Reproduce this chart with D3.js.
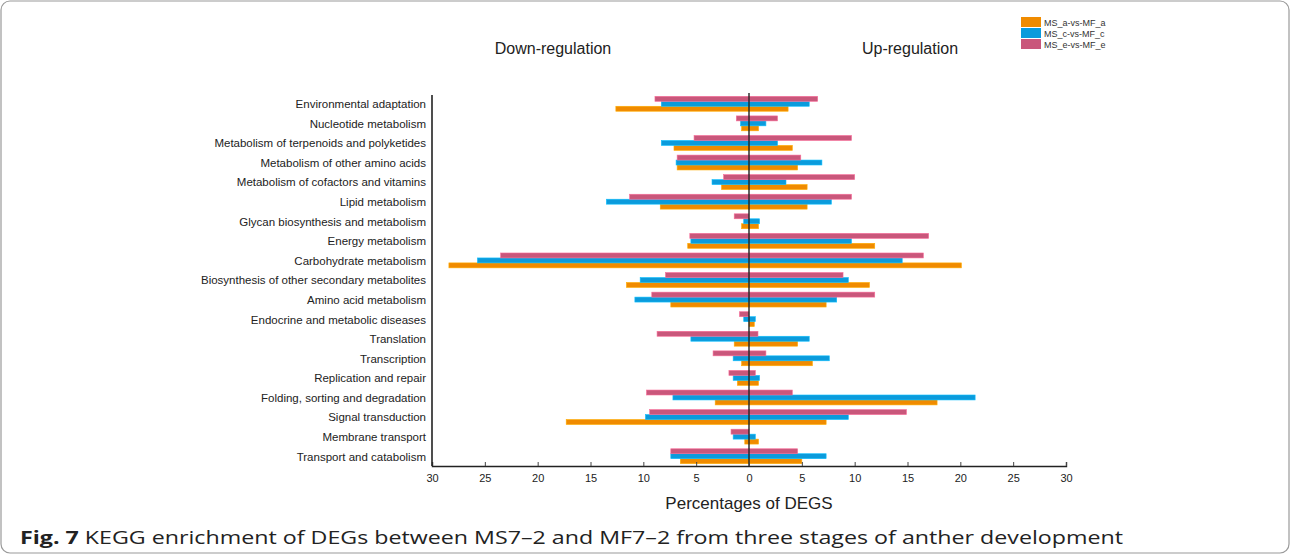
<!DOCTYPE html>
<html>
<head>
<meta charset="utf-8">
<script src="https://cdn.jsdelivr.net/npm/d3@7"></script>
<style>
  body { margin: 0; background: #fff; }
  svg { display: block; }
</style>
</head>
<body>
<script>
// KEGG categories, top to bottom
const categories = [
  "Environmental adaptation",
  "Nucleotide metabolism",
  "Metabolism of terpenoids and  polyketides",
  "Metabolism of other amino acids",
  "Metabolism of cofactors and vitamins",
  "Lipid metabolism",
  "Glycan biosynthesis and metabolism",
  "Energy metabolism",
  "Carbohydrate metabolism",
  "Biosynthesis of other secondary metabolites",
  "Amino acid metabolism",
  "Endocrine and metabolic diseases",
  "Translation",
  "Transcription",
  "Replication and repair",
  "Folding, sorting and degradation",
  "Signal transduction",
  "Membrane transport",
  "Transport and catabolism"
];

const seriesNames = ["MS_a-vs-MF_a", "MS_c-vs-MF_c", "MS_e-vs-MF_e"];
const seriesColors = ["#f08b00", "#0b9bdc", "#c9577b"];

// percentages of DEGs (down-regulated / up-regulated)
const downA = [12.6, 0.7, 7.1, 6.8, 2.6, 8.4, 0.7, 5.8, 28.4, 11.6, 7.4, 0, 1.4, 0.7, 1.1, 3.2, 17.3, 0.4, 6.5];
const upA   = [3.7, 0.9, 4.1, 4.6, 5.5, 5.5, 0.9, 11.9, 20.1, 11.4, 7.3, 0.5, 4.6, 6.0, 0.9, 17.8, 7.3, 0.9, 5.0];
const downC = [8.3, 0.8, 8.3, 6.9, 3.5, 13.5, 0.5, 5.5, 25.7, 10.3, 10.8, 0.5, 5.5, 1.5, 1.5, 7.2, 9.8, 1.5, 7.4];
const upC   = [5.7, 1.6, 2.7, 6.9, 3.5, 7.8, 1.0, 9.7, 14.5, 9.4, 8.3, 0.6, 5.7, 7.6, 1.0, 21.4, 9.4, 0.6, 7.3];
const downE = [8.9, 1.2, 5.2, 6.8, 2.4, 11.3, 1.4, 5.6, 23.5, 7.9, 9.2, 0.9, 8.7, 3.4, 1.9, 9.7, 9.4, 1.7, 7.4];
const upE   = [6.5, 2.7, 9.7, 4.9, 10.0, 9.7, 0, 17.0, 16.5, 8.9, 11.9, 0, 0.85, 1.6, 0.6, 4.1, 14.9, 0, 4.6];

const xTicks = [-30, -25, -20, -15, -10, -5, 0, 5, 10, 15, 20, 25, 30];

const width = 1290, height = 555;
const svg = d3.select("body").append("svg")
  .attr("width", width)
  .attr("height", height)
  .style("font-family", "'Liberation Sans', Arial, sans-serif");

// frame
svg.append("rect")
  .attr("x", 1).attr("y", 1)
  .attr("width", width - 2).attr("height", height - 3)
  .attr("rx", 9)
  .attr("fill", "none")
  .attr("stroke", "#9a9a9a")
  .attr("stroke-width", 1.2);

const x = d3.scaleLinear().domain([-30, 30]).range([432, 1066]);
const y = d3.scaleBand().domain(categories).range([94, 466]).paddingInner(0.24).paddingOuter(0.12);
// order inside a row: e on top, then c, then a
const sub = d3.scaleBand().domain([2, 1, 0]).range([0, y.bandwidth()]);

const downs = [downA, downC, downE];
const ups = [upA, upC, upE];

// bars
const rows = [];
categories.forEach((c, i) => {
  [0, 1, 2].forEach(s => {
    rows.push({ cat: c, s: s, v: -downs[s][i] });
    rows.push({ cat: c, s: s, v: ups[s][i] });
  });
});

svg.append("g").selectAll("rect")
  .data(rows.filter(d => d.v !== 0))
  .join("rect")
  .attr("x", d => Math.min(x(0), x(d.v)))
  .attr("y", d => y(d.cat) + sub(d.s))
  .attr("width", d => Math.abs(x(d.v) - x(0)))
  .attr("height", sub.bandwidth())
  .attr("fill", d => seriesColors[d.s])
  .attr("stroke", d => d3.color(seriesColors[d.s]).brighter(0.6))
  .attr("stroke-width", 0.6);

// zero line
svg.append("line")
  .attr("x1", x(0)).attr("x2", x(0))
  .attr("y1", 93).attr("y2", 466)
  .attr("stroke", "#222")
  .attr("stroke-width", 1.4);

// x axis
const xAxis = d3.axisBottom(x)
  .tickValues(xTicks)
  .tickSize(-4)
  .tickPadding(8)
  .tickFormat(d => Math.abs(d));

svg.append("g")
  .attr("transform", "translate(0,466)")
  .call(xAxis)
  .call(g => g.select(".domain").attr("stroke", "#222").attr("stroke-width", 1.4))
  .call(g => g.selectAll(".tick line").attr("stroke", "#444"))
  .call(g => g.selectAll("text")
    .attr("font-size", "11px")
    .attr("fill", "#222")
    .attr("font-family", "'Liberation Sans', Arial, sans-serif"));

// y axis
const yAxis = d3.axisLeft(y).tickSize(0).tickPadding(6);
svg.append("g")
  .attr("transform", "translate(432,0)")
  .call(yAxis)
  .call(g => g.select(".domain").attr("stroke", "#222").attr("stroke-width", 1.6).attr("d", "M0,95V466"))
  .call(g => g.selectAll("text")
    .attr("font-size", "11.5px")
    .attr("fill", "#222")
    .attr("dy", "0.38em")
    .attr("font-family", "'Liberation Sans', Arial, sans-serif"));

// headings
svg.append("text")
  .attr("x", 553).attr("y", 54)
  .attr("text-anchor", "middle")
  .attr("font-size", "16px")
  .attr("fill", "#222")
  .text("Down-regulation");

svg.append("text")
  .attr("x", 910).attr("y", 54)
  .attr("text-anchor", "middle")
  .attr("font-size", "16px")
  .attr("fill", "#222")
  .text("Up-regulation");

svg.append("text")
  .attr("x", x(0)).attr("y", 509)
  .attr("text-anchor", "middle")
  .attr("font-size", "17px")
  .attr("fill", "#222")
  .text("Percentages of DEGS");

// legend
const legend = svg.append("g").attr("transform", "translate(1021,17)");
seriesNames.forEach((n, i) => {
  legend.append("rect")
    .attr("x", 0).attr("y", i * 11)
    .attr("width", 20).attr("height", 10)
    .attr("fill", seriesColors[i]);
  legend.append("text")
    .attr("x", 23).attr("y", i * 11 + 8.5)
    .attr("font-size", "9px")
    .attr("fill", "#333")
    .text(n);
});

// caption
const cap = svg.append("text")
  .attr("x", 20).attr("y", 544)
  .attr("font-size", "17.5px")
  .attr("textLength", 1103)
  .attr("lengthAdjust", "spacingAndGlyphs")
  .attr("font-family", "'Open Sans', 'Noto Sans', sans-serif")
  .attr("fill", "#222");
cap.append("tspan").attr("font-weight", "bold").text("Fig. 7");
cap.append("tspan").text(" KEGG enrichment of DEGs between MS7\u20132 and MF7\u20132 from three stages of anther development");
</script>
</body>
</html>
